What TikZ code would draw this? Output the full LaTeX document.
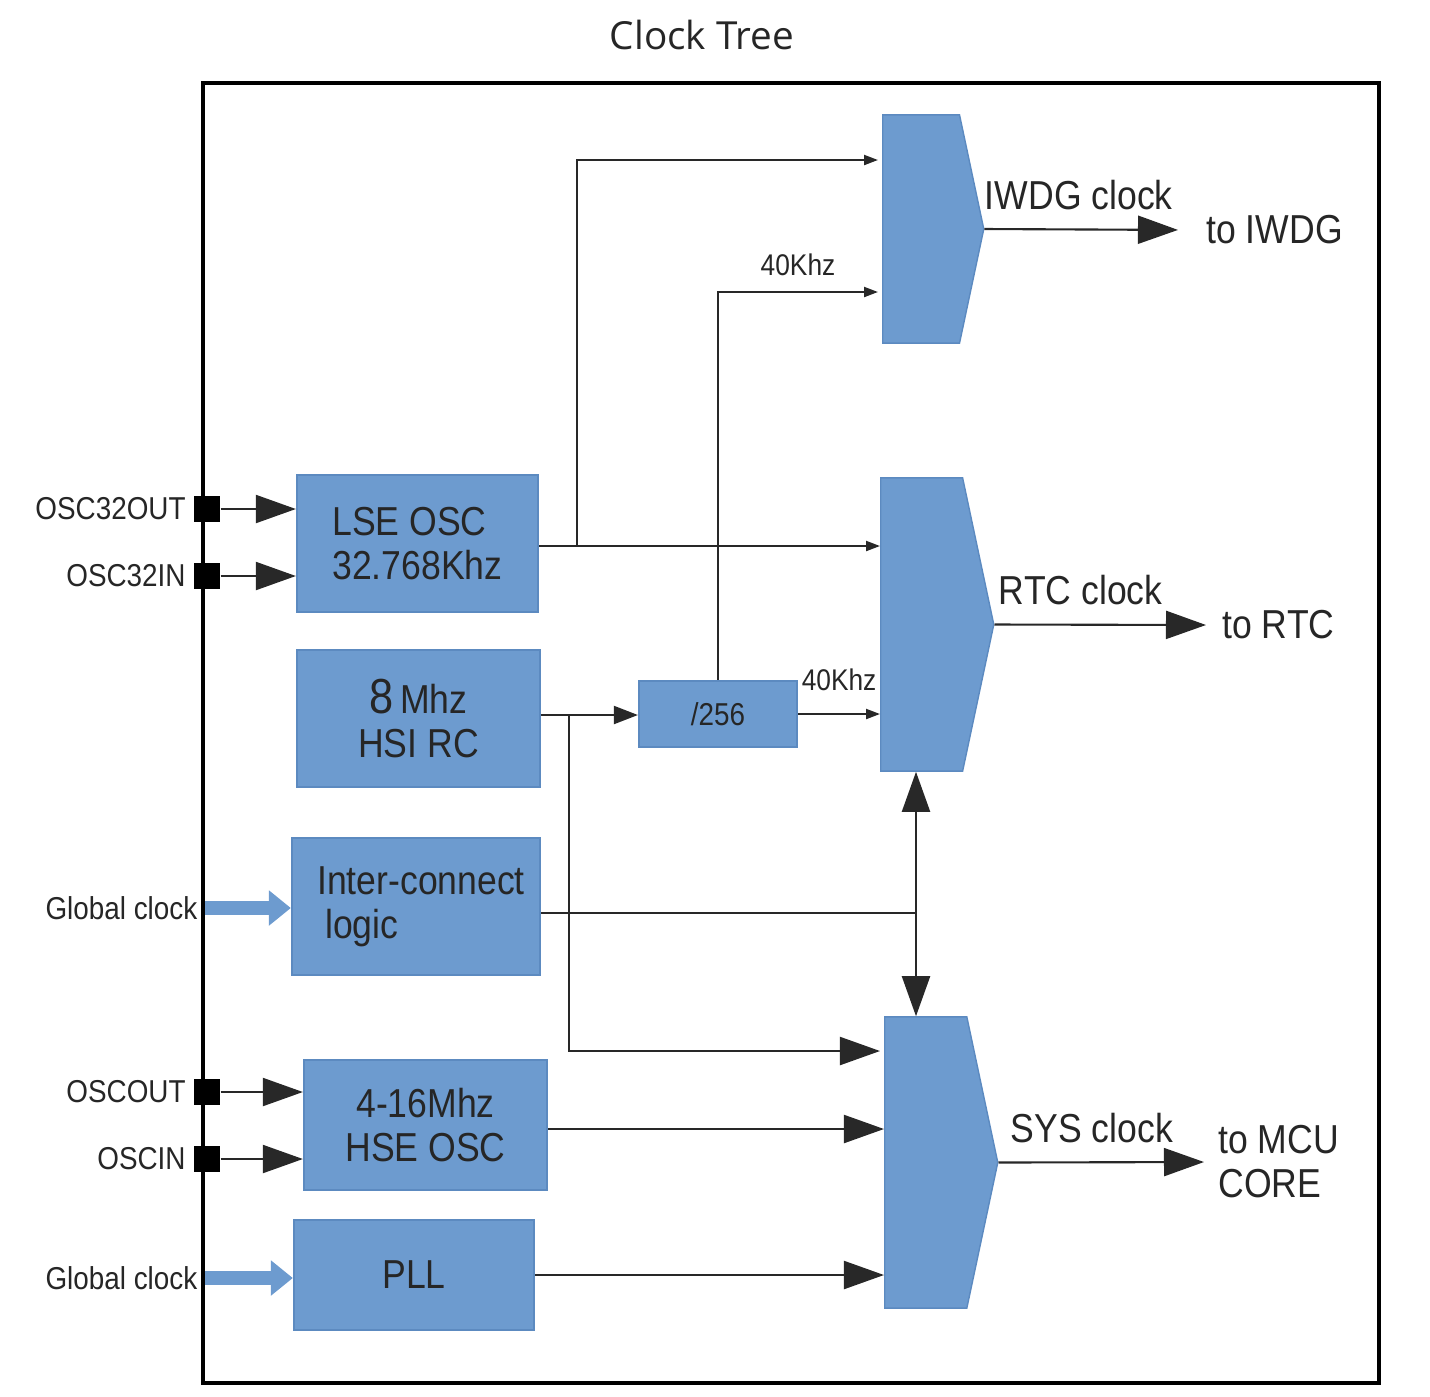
\documentclass[tikz,border=0pt]{standalone}
\usepackage{fontspec}
\setmainfont{Liberation Sans}[FakeStretch=0.88]
\newfontfamily\titlefont{Open Sans}
\usetikzlibrary{arrows.meta,shapes.symbols,positioning}
\definecolor{blkfill}{RGB}{109,155,207}
\definecolor{blkedge}{RGB}{92,138,192}
\definecolor{txt}{RGB}{38,38,38}
\definecolor{wire}{RGB}{40,40,40}

\begin{document}
\begin{tikzpicture}[x=0.01cm, y=-0.01cm,
  blk/.style={fill=blkfill, draw=blkedge, line width=0.6pt, text=txt, font=\fontsize{11.5}{12.5}\selectfont},
  mux/.style={shape=signal, signal to=east, signal from=nowhere, signal pointer angle=156, fill=blkfill, draw=blkedge, inner sep=0pt, anchor=west},
  pinsq/.style={fill=black, minimum size=0.26cm, inner sep=0pt},
  pinlbl/.style={text=txt, font=\fontsize{9}{10}\selectfont, inner sep=2pt},
  sarrow/.style={draw=wire, line width=0.6pt, -{Triangle[length=1.4mm, width=1mm]}},
  barrow/.style={draw=wire, line width=0.6pt, -{Triangle[length=4mm, width=2.8mm]}},
  garrow/.style={draw=blkfill, line width=4pt, -{Triangle[length=2.2mm, width=3.4mm]}},
  lbl/.style={text=txt, font=\fontsize{11.5}{12.5}\selectfont},
  khz/.style={text=txt, font=\fontsize{8.5}{10}\selectfont}]
  \useasboundingbox (0,0) rectangle (1430,1396);

  % Title and chip outline
  \node[text=txt, font=\titlefont\fontsize{11}{13}\selectfont] (title) at (702,35) {Clock Tree};
  \draw[line width=1pt] (203,83) rectangle (1379,1383);

  % Clock sources
  \node[blk, minimum width=2.41cm, minimum height=1.37cm, align=left] (lse) at (417.5,543.5) {LSE OSC\\32.768Khz};
  \node[blk, minimum width=2.43cm, minimum height=1.37cm, align=center] (hsi) at (418.5,718.5) {{\fontsize{14}{14}\selectfont 8}\,Mhz\\HSI RC};
  \node[blk, minimum width=2.48cm, minimum height=1.37cm, align=left] (ic) at (416,906.5) {\hspace*{0.1cm}Inter-connect\\\hspace*{0.18cm}logic};
  \node[blk, minimum width=2.43cm, minimum height=1.30cm, align=center] (hse) at (425.5,1125) {4-16Mhz\\HSE OSC};
  \node[blk, minimum width=2.40cm, minimum height=1.10cm] (pll) at (414,1275) {PLL};
  \node[blk, minimum width=1.58cm, minimum height=0.66cm, font=\fontsize{9}{10}\selectfont] (div) at (718,714) {/256};

  % Clock muxes
  \node[mux, minimum width=1.01cm, minimum height=2.28cm] (iwdg) at (882,229) {};
  \node[mux, minimum width=1.13cm, minimum height=2.93cm] (rtc) at (880,624.5) {};
  \node[mux, minimum width=1.13cm, minimum height=2.91cm] (sys) at (884,1162.5) {};

  % Pins
  \node[pinsq] (p32out) at (207,509) {};
  \node[pinsq] (p32in) at (207,576) {};
  \node[pinsq] (poscout) at (207,1092) {};
  \node[pinsq] (poscin) at (207,1159) {};
  \node[pinlbl, left=0pt of p32out] {OSC32OUT};
  \node[pinlbl, left=0pt of p32in] {OSC32IN};
  \node[pinlbl, left=0pt of poscout] {OSCOUT};
  \node[pinlbl, left=0pt of poscin] {OSCIN};
  \node[pinlbl, anchor=east] (gclk1) at (205,908) {Global clock};
  \node[pinlbl, anchor=east] (gclk2) at (205,1278) {Global clock};

  \draw[barrow] (p32out.east) -- (p32out.east -| lse.west);
  \draw[barrow] (p32in.east) -- (p32in.east -| lse.west);
  \draw[barrow] (poscout.east) -- (poscout.east -| hse.west);
  \draw[barrow] (poscin.east) -- (poscin.east -| hse.west);
  \draw[garrow] (gclk1.east) -- (gclk1.east -| ic.west);
  \draw[garrow] (gclk2.east) -- (gclk2.east -| pll.west);

  % Branch points and mux inputs
  \coordinate (lsebr) at (577,546);
  \coordinate (hsibr) at (569,715);
  \coordinate (icbr) at (916,913);
  \coordinate (iwdgin1) at (878,160);
  \coordinate (iwdgin2) at (878,292);
  \coordinate (sysin1) at (880,1051);

  % LSE
  \draw[sarrow] (lse.east |- lsebr) -- (lsebr -| rtc.west);
  \draw[sarrow] (lsebr) |- (iwdgin1);

  % HSI and divider
  \draw[draw=wire, line width=0.6pt, -{Triangle[length=2.4mm, width=1.8mm]}] (hsi.east |- hsibr) -- (div.west |- hsibr);
  \draw[barrow] (hsibr) |- (sysin1);
  \draw[sarrow] (div.east) -- (div.east -| rtc.west) node[khz, midway, above=3pt] {40Khz};
  \draw[sarrow] (div.north) |- (iwdgin2) node[khz, pos=0.75, above=1pt] {40Khz};

  % Inter-connect logic
  \draw[draw=wire, line width=0.6pt] (ic.east |- icbr) -- (icbr);
  \draw[barrow] (icbr) -- (icbr |- rtc.south);
  \draw[barrow] (icbr) -- (icbr |- sys.north);

  % HSE and PLL
  \draw[barrow] (hse.east |- 0,1129) -- (sys.west |- 0,1129);
  \draw[barrow] (pll.east) -- (pll.east -| sys.west);

  % Outputs
  \node[lbl, anchor=west] (toiwdg) at (1194,230) {to IWDG};
  \node[lbl, anchor=west] (tortc) at (1210,625) {to RTC};
  \node[lbl, anchor=west, align=left] (tomcu) at (1206,1162) {to MCU\\CORE};
  \draw[barrow, shorten >=1.6mm] (iwdg.east) -- (toiwdg.west) node[lbl, pos=0.45, above=2pt] {IWDG clock};
  \draw[barrow, shorten >=0.4mm] (rtc.east) -- (tortc.west) node[lbl, pos=0.4, above=2pt] {RTC clock};
  \draw[barrow, shorten >=0.2mm] (sys.east) -- (tomcu.west) node[lbl, pos=0.45, above=2pt] {SYS clock};
\end{tikzpicture}
\end{document}
